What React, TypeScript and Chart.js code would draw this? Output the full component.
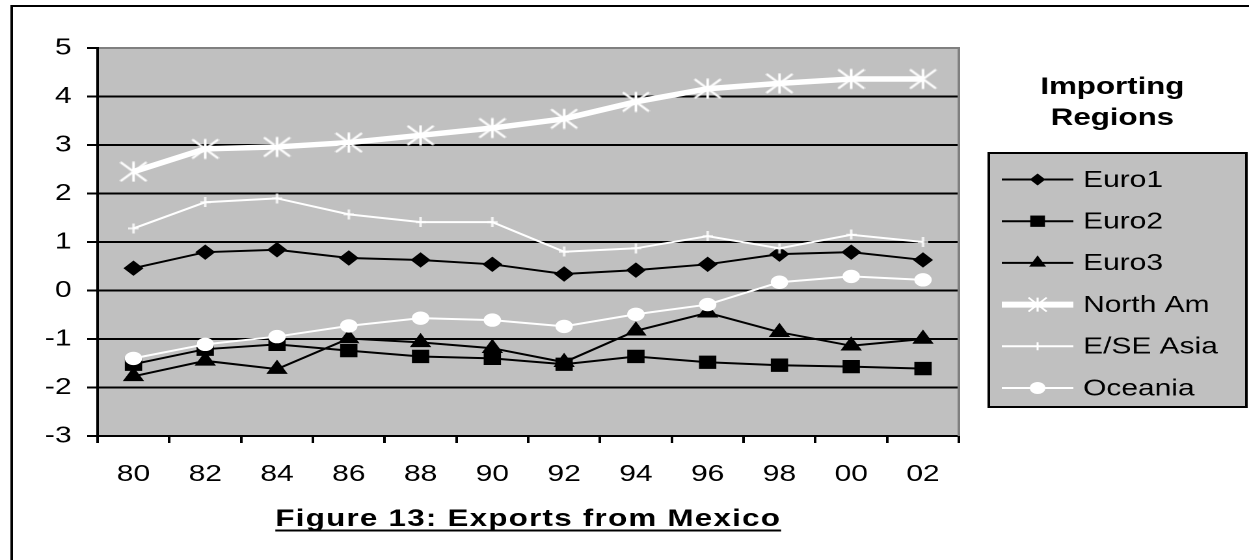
import React, { useEffect, useRef } from 'react';
import { Chart, registerables } from 'chart.js';

Chart.register(...registerables);

// ---------------- data ----------------
const years = ['80', '82', '84', '86', '88', '90', '92', '94', '96', '98', '00', '02'];
const euro1 = [0.46, 0.79, 0.84, 0.67, 0.63, 0.54, 0.34, 0.42, 0.54, 0.75, 0.79, 0.63];
const euro2 = [-1.52, -1.21, -1.11, -1.24, -1.36, -1.4, -1.52, -1.36, -1.48, -1.54, -1.57, -1.61];
const euro3 = [-1.77, -1.45, -1.62, -0.99, -1.07, -1.19, -1.48, -0.83, -0.46, -0.86, -1.14, -1.0];
const northAm = [2.45, 2.92, 2.96, 3.05, 3.2, 3.35, 3.54, 3.89, 4.16, 4.27, 4.36, 4.36];
const eseAsia = [1.28, 1.82, 1.9, 1.57, 1.41, 1.41, 0.8, 0.87, 1.12, 0.87, 1.15, 1.0];
const oceania = [-1.4, -1.11, -0.95, -0.73, -0.57, -0.61, -0.74, -0.49, -0.29, 0.17, 0.29, 0.22];
const seriesNames = ['Euro1', 'Euro2', 'Euro3', 'North Am', 'E/SE Asia', 'Oceania'];
const seriesValues = [euro1, euro2, euro3, northAm, eseAsia, oceania];
const yMin = -3;
const yMax = 5;
const yStep = 1;
const chartTitle = 'Figure 13: Exports from Mexico';
const legendTitle = ['Importing', 'Regions'];

// ---------------- styles ----------------
const FONT = '"Liberation Sans", Arial, Helvetica, sans-serif';
const W = 960; // internal drawing width (displayed stretched to 1249)
const H = 560;

type Kind = 'diamond' | 'square' | 'triangle' | 'star' | 'plus' | 'circle';
const seriesStyles: { kind: Kind; color: string; lw: number; r: number; lr: number }[] = [
  { kind: 'diamond', color: '#000000', lw: 2, r: 7, lr: 6 },
  { kind: 'square', color: '#000000', lw: 2, r: 8.7, lr: 8 },
  { kind: 'triangle', color: '#000000', lw: 2, r: 8.5, lr: 7.5 },
  { kind: 'star', color: '#ffffff', lw: 5.5, r: 10, lr: 7 },
  { kind: 'plus', color: '#ffffff', lw: 2, r: 4.5, lr: 4 },
  { kind: 'circle', color: '#ffffff', lw: 2, r: 6.2, lr: 6 },
];

function drawMarker(ctx: CanvasRenderingContext2D, kind: Kind, x: number, y: number, r: number, color: string) {
  ctx.save();
  ctx.fillStyle = color;
  ctx.strokeStyle = color;
  ctx.lineWidth = 1;
  ctx.beginPath();
  if (kind === 'diamond') {
    ctx.moveTo(x, y - r); ctx.lineTo(x + r, y); ctx.lineTo(x, y + r); ctx.lineTo(x - r, y); ctx.closePath();
    ctx.fill();
  } else if (kind === 'square') {
    const s = r * Math.SQRT1_2;
    ctx.rect(x - s, y - s, 2 * s, 2 * s); ctx.fill();
  } else if (kind === 'triangle') {
    ctx.moveTo(x, y - r); ctx.lineTo(x + r * 0.866, y + r / 2); ctx.lineTo(x - r * 0.866, y + r / 2); ctx.closePath();
    ctx.fill();
  } else if (kind === 'circle') {
    ctx.arc(x, y, r, 0, Math.PI * 2); ctx.fill();
  } else if (kind === 'star') {
    ctx.lineWidth = 1.6;
    ctx.moveTo(x, y - r); ctx.lineTo(x, y + r);
    ctx.moveTo(x - r, y - r); ctx.lineTo(x + r, y + r);
    ctx.moveTo(x + r, y - r); ctx.lineTo(x - r, y + r);
    ctx.stroke();
  } else if (kind === 'plus') {
    ctx.lineWidth = 1.5;
    ctx.moveTo(x, y - r); ctx.lineTo(x, y + r);
    ctx.moveTo(x - r * 0.75, y); ctx.lineTo(x + r * 0.75, y);
    ctx.stroke();
  }
  ctx.restore();
}

function makeImage(w: number, h: number, draw: (g: CanvasRenderingContext2D) => void) {
  const c = document.createElement('canvas');
  c.width = w; c.height = h;
  const g = c.getContext('2d') as CanvasRenderingContext2D;
  draw(g);
  return c;
}

const bgPlugin = {
  id: 'plotBg',
  beforeDraw(chart: any) {
    const { ctx, chartArea: a } = chart;
    ctx.save();
    ctx.fillStyle = '#ffffff';
    ctx.fillRect(0, 0, chart.width, chart.height);
    ctx.fillStyle = '#c0c0c0';
    ctx.fillRect(a.left, a.top, a.right - a.left, a.bottom - a.top);
    ctx.restore();
  },
  beforeDatasetsDraw(chart: any) {
    const { ctx, chartArea: a } = chart;
    ctx.save();
    ctx.strokeStyle = '#808080';
    ctx.lineWidth = 2;
    ctx.beginPath();
    ctx.moveTo(a.right, a.top - 1);
    ctx.lineTo(a.right, a.bottom);
    ctx.stroke();
    ctx.restore();
  },
};

const decorPlugin = {
  id: 'decor',
  afterDraw(chart: any) {
    const ctx: CanvasRenderingContext2D = chart.ctx;
    ctx.save();
    // outer frame
    ctx.strokeStyle = '#000';
    ctx.lineWidth = 2;
    ctx.beginPath();
    ctx.moveTo(9, H + 10);
    ctx.lineTo(9, 6);
    ctx.lineTo(W + 10, 6);
    ctx.stroke();

    // figure title (bold, underlined)
    ctx.fillStyle = '#000';
    ctx.font = `bold 24px ${FONT}`;
    (ctx as any).letterSpacing = '1px';
    ctx.textAlign = 'left';
    ctx.textBaseline = 'alphabetic';
    const tw = ctx.measureText(chartTitle).width;
    const tx = 406 - tw / 2;
    ctx.fillText(chartTitle, tx, 526);
    ctx.fillRect(tx, 529.5, tw, 2);
    (ctx as any).letterSpacing = '0px';

    // legend title
    ctx.textAlign = 'center';
    ctx.font = `bold 24px ${FONT}`;
    ctx.fillText(legendTitle[0], 855, 94);
    ctx.fillText(legendTitle[1], 855, 125);

    // legend box
    const bx = 760, by = 153, bw = 198, bh = 254;
    ctx.fillStyle = '#c0c0c0';
    ctx.fillRect(bx, by, bw, bh);
    ctx.strokeStyle = '#000';
    ctx.lineWidth = 2;
    ctx.strokeRect(bx, by, bw, bh);

    ctx.font = `23px ${FONT}`;
    ctx.textAlign = 'left';
    ctx.textBaseline = 'middle';
    chart.data.datasets.forEach((ds: any, i: number) => {
      const st = seriesStyles[i];
      const y = 179.5 + i * 41.7;
      ctx.strokeStyle = st.color;
      ctx.lineWidth = st.kind === 'star' ? 6 : 2;
      ctx.beginPath();
      ctx.moveTo(770, y);
      ctx.lineTo(825, y);
      ctx.stroke();
      drawMarker(ctx, st.kind, 797.5, y, st.lr, st.color);
      ctx.fillStyle = '#000';
      ctx.fillText(ds.label, 832.5, y + 1);
    });
    ctx.restore();
  },
};

export default function App() {
  const ref = useRef<HTMLCanvasElement | null>(null);
  useEffect(() => {
    const canvas = ref.current;
    if (!canvas) return;

    const starImg = makeImage(22, 21, (g) => {
      g.strokeStyle = '#fff';
      g.lineWidth = 2;
      g.beginPath();
      g.moveTo(11, 0.5); g.lineTo(11, 20.5);
      g.moveTo(1, 1); g.lineTo(21, 20);
      g.moveTo(21, 1); g.lineTo(1, 20);
      g.stroke();
    });
    const plusImg = makeImage(8, 10, (g) => {
      g.strokeStyle = '#fff';
      g.lineWidth = 1.6;
      g.beginPath();
      g.moveTo(4, 0); g.lineTo(4, 10);
      g.moveTo(0, 5); g.lineTo(8, 5);
      g.stroke();
    });

    const pointStyles: any[] = ['rectRot', 'rect', 'triangle', starImg, plusImg, 'circle'];

    const datasets = seriesValues.map((vals, i) => {
      const st = seriesStyles[i];
      return {
        label: seriesNames[i],
        data: vals,
        borderColor: st.color,
        backgroundColor: st.color,
        borderWidth: st.lw,
        pointStyle: pointStyles[i],
        pointRadius: st.r,
        pointBackgroundColor: st.color,
        pointBorderColor: st.color,
        pointBorderWidth: 1,
        tension: 0,
        order: seriesNames.length - i,
      };
    });

    const chart = new Chart(canvas, {
      type: 'line',
      data: { labels: years, datasets },
      plugins: [bgPlugin, decorPlugin],
      options: {
        animation: false,
        responsive: false,
        devicePixelRatio: 2,
        layout: { padding: { top: 48, right: W - 737, left: 0, bottom: 0 } },
        plugins: {
          legend: { display: false },
          tooltip: { enabled: false },
          title: { display: false },
        },
        scales: {
          x: {
            offset: true,
            ticks: { color: '#000', font: { family: FONT, size: 23 }, padding: 18, maxRotation: 0, autoSkip: false },
            grid: { offset: true, drawOnChartArea: false, drawTicks: true, tickLength: 7, color: '#000', lineWidth: 2 },
            border: { display: true, color: '#000', width: 2 },
            afterFit: (s: any) => { s.height = 124; },
          },
          y: {
            min: yMin,
            max: yMax,
            ticks: { stepSize: yStep, color: '#000', font: { family: FONT, size: 23 }, padding: 12 },
            grid: {
              color: (c: any) => (c.tick && c.tick.value === yMax ? '#808080' : '#000'),
              lineWidth: 2,
              tickColor: '#000',
              tickLength: 8,
              drawTicks: true,
            },
            border: { display: true, color: '#000', width: 2 },
            afterFit: (s: any) => { s.width = 75; },
          },
        },
      } as any,
    });
    return () => chart.destroy();
  }, []);

  return (
    <div style={{ position: 'absolute', left: 0, top: 0, width: 1249, height: 560, overflow: 'hidden', background: '#fff' }}>
      <canvas ref={ref} width={W} height={H} style={{ width: '1249px', height: '560px', display: 'block' }} />
    </div>
  );
}
